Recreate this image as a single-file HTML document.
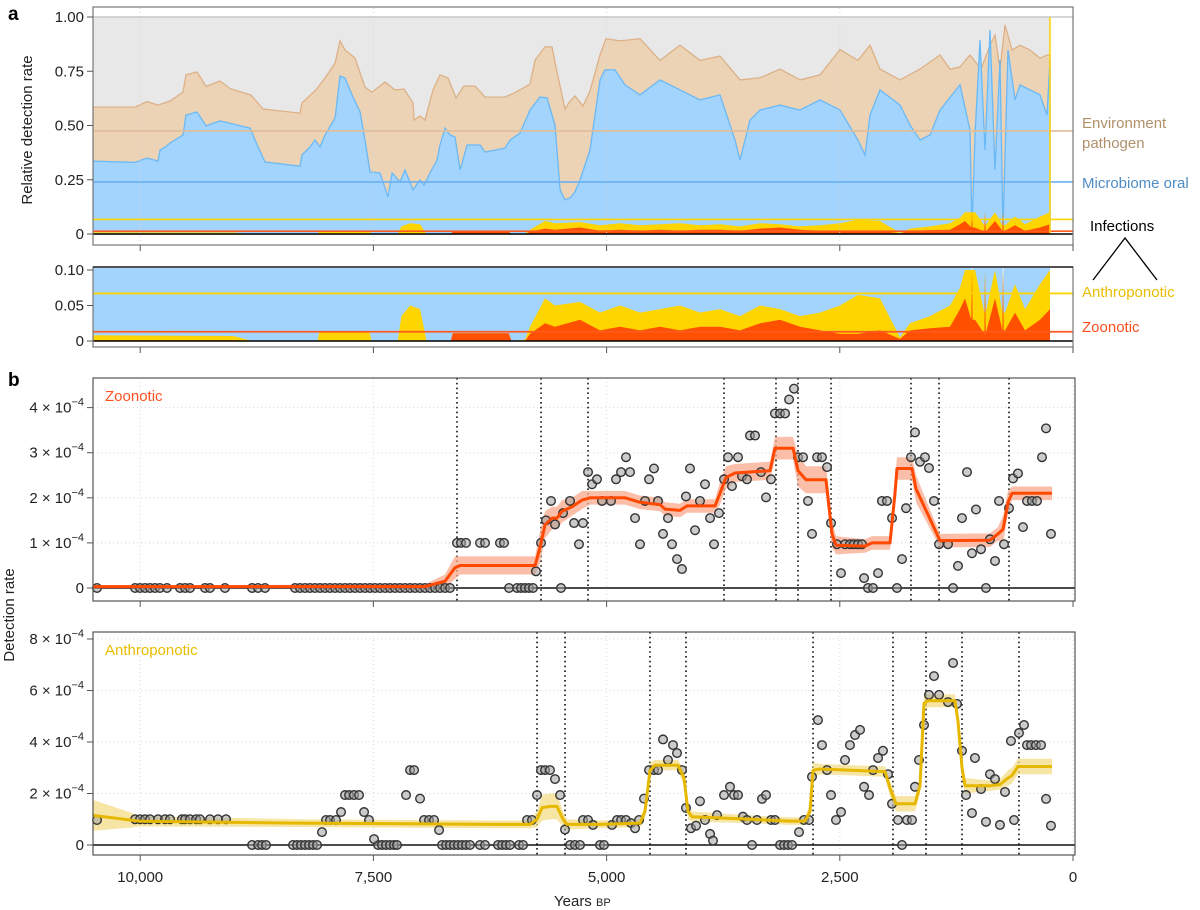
<!DOCTYPE html>
<html><head><meta charset="utf-8">
<style>
html,body{margin:0;padding:0;background:#fff;}
svg{display:block;font-family:"Liberation Sans",Arial,sans-serif;}
</style></head>
<body>
<svg id="chart" xmlns="http://www.w3.org/2000/svg" width="1200" height="910" viewBox="0 0 1200 910">
<defs>
<clipPath id="clipA"><rect x="93" y="7" width="980" height="238"/></clipPath>
<clipPath id="clipB"><rect x="93" y="268" width="980" height="79"/></clipPath>
</defs>
<g id="panelA"></g>
<g id="panelB1"></g>
<g id="panelB2"></g>
<g id="labels">
<text x="8" y="20" font-size="19" font-weight="bold">a</text>
<text x="8" y="386" font-size="19" font-weight="bold">b</text>
<text transform="translate(32,130) rotate(-90)" text-anchor="middle" font-size="15" fill="#222">Relative detection rate</text>
<text transform="translate(14,615) rotate(-90)" text-anchor="middle" font-size="15" fill="#222">Detection rate</text>
<text x="554" y="906" font-size="15" fill="#222">Years <tspan font-size="11">BP</tspan></text>
<text x="1082" y="128" font-size="15" fill="#b0906b">Environment</text>
<text x="1082" y="148" font-size="15" fill="#b0906b">pathogen</text>
<text x="1082" y="188" font-size="15" fill="#4f8cc4">Microbiome oral</text>
<text x="1090" y="231" font-size="15" fill="#000">Infections</text>
<polyline points="1093,280 1125,238 1157,280" fill="none" stroke="#000" stroke-width="1.3"/>
<text x="1082" y="297" font-size="15" fill="#e8bd00">Anthroponotic</text>
<text x="1082" y="332" font-size="15" fill="#ff4f1f">Zoonotic</text>
</g>
</svg>
<script>
// ---------- Panel a data ----------
const envYears=[10506,10055,9927,9809,9680,9541,9509,9391,9294,9144,9037,8812,8683,8287,8265,8115,8019,7911,7858,7804,7697,7590,7515,7375,7268,7172,7075,7064,7000,6947,6861,6786,6700,6614,6529,6411,6303,6089,5971,5821,5767,5660,5585,5532,5446,5392,5339,5253,5178,5071,5006,4856,4642,4427,4213,3999,3784,3570,3355,3141,2927,2712,2498,2305,2176,2069,1855,1640,1426,1319,1211,1104,986,890,836,783,729,654,568,461,354,279,247];
const envTop=[.585,.585,.61,.594,.613,.654,.733,.747,.68,.705,.67,.64,.576,.557,.604,.664,.719,.788,.89,.848,.811,.677,.654,.7,.664,.668,.604,.525,.544,.525,.664,.733,.719,.627,.682,.682,.631,.631,.654,.691,.802,.862,.862,.747,.576,.613,.636,.59,.659,.825,.9,.89,.9,.8,.87,.8,.82,.71,.72,.76,.71,.733,.85,.8,.87,.76,.71,.76,.825,.76,.77,.825,.76,.87,.917,.76,.963,.848,.87,.848,.81,.825,.825];
const oralYears=[10506,10055,9927,9809,9788,9734,9680,9541,9509,9391,9294,9144,8823,8769,8662,8287,8265,8180,8126,8072,8019,7911,7858,7804,7729,7643,7590,7536,7429,7343,7300,7215,7161,7075,7000,6957,6893,6818,6786,6732,6679,6625,6571,6496,6357,6303,6089,6035,5928,5821,5714,5639,5553,5499,5446,5392,5339,5285,5178,5071,5017,4910,4803,4642,4427,4213,3999,3784,3623,3570,3463,3355,3141,2927,2712,2498,2305,2230,2176,2069,1855,1747,1640,1533,1426,1211,1104,1083,1051,997,943,890,836,783,750,697,622,568,461,354,279,247];
const oralTop=[.336,.33,.35,.336,.387,.4,.419,.456,.548,.562,.498,.521,.488,.433,.332,.313,.364,.401,.433,.401,.456,.535,.728,.719,.641,.562,.433,.286,.281,.171,.281,.24,.295,.203,.249,.226,.281,.341,.41,.488,.456,.447,.295,.41,.41,.378,.396,.433,.465,.571,.631,.627,.502,.203,.157,.166,.194,.249,.387,.71,.756,.756,.687,.641,.71,.664,.618,.641,.433,.341,.525,.571,.594,.571,.618,.571,.433,.364,.548,.664,.594,.502,.433,.456,.571,.687,.479,.018,.456,.894,.387,.94,.295,.802,.018,.848,.618,.687,.664,.641,.548,.802];
const infYears=[10506,9000,8800,8100,8080,7540,7520,7240,7200,7107,7000,6930,6670,6650,6050,6020,5875,5821,5660,5553,5285,5071,4856,4642,4427,4213,3999,3784,3570,3355,3141,2927,2712,2498,2305,2069,1855,1747,1533,1319,1211,1158,1090,1083,1076,1051,950,943,936,836,757,750,743,729,622,515,354,247];
const zooShare=[.001,.001,0,0,0,0,0,0,0,0,0,0,0,.011,.011,0,0,.01,.025,.02,.03,.015,.02,.015,.02,.015,.02,.02,.015,.025,.03,.02,.015,.01,.01,.015,.003,.015,.018,.02,.045,.06,.03,.1,.03,.03,.01,.1,.01,.06,.015,.1,.015,.015,.04,.015,.03,.045];
const anthCum=[.008,.007,0,0,.012,.012,0,0,.035,.05,.045,0,0,.011,.011,0,.002,.02,.06,.05,.055,.04,.05,.04,.045,.05,.04,.045,.035,.05,.045,.035,.04,.05,.065,.06,.005,.025,.035,.05,.075,.1,.1,.1,.1,.1,.04,.1,.04,.1,.04,.1,.04,.04,.08,.045,.08,.1];
const refLevels={env:.475,oral:.24,anth:.067,zoo:.013};
const aTicks=[0,.25,.5,.75,1];const aTickLabels=["0","0.25","0.50","0.75","1.00"];
const bTicks=[0,.05,.10];const bTickLabels=["0","0.05","0.10"];
const xTicks=[10000,7500,5000,2500,0];const xTickLabels=["10,000","7,500","5,000","2,500","0"];
const lastYear=247;
// ---------- Panel b data (units of 1e-4) ----------
const zooFitYears=[10506,6947,6732,6625,6571,5767,5714,5660,5585,5532,5478,5371,5264,5178,4803,4642,4427,4374,4213,4138,3838,3784,3720,3623,3248,3195,3002,2948,2862,2648,2584,2541,2230,2155,1962,1908,1887,1726,1683,1426,890,804,750,697,654,225];
const zooFit=[0.03,0.03,0.15,0.45,0.5,0.5,0.9,1.4,1.55,1.55,1.7,1.8,1.95,2.0,2.0,1.9,1.85,1.75,1.72,1.82,1.82,2.1,2.45,2.55,2.6,3.1,3.1,2.6,2.4,2.4,1.2,0.95,0.93,1.0,1.0,2.1,2.65,2.65,2.2,1.05,1.06,1.2,1.3,1.9,2.1,2.1];
const zooBand=[0.03,0.05,0.15,0.25,0.2,0.2,0.35,0.3,0.25,0.25,0.25,0.2,0.2,0.15,0.15,0.15,0.15,0.15,0.15,0.15,0.15,0.25,0.25,0.2,0.2,0.25,0.25,0.35,0.3,0.3,0.3,0.2,0.15,0.15,0.15,0.3,0.25,0.25,0.3,0.15,0.15,0.15,0.3,0.25,0.15,0.15];
const zooZeroYears=[10463,10055,10002,9948,9895,9841,9788,9713,9573,9519,9466,9305,9252,9091,8801,8737,8662,8340,8287,8233,8180,8126,8072,8019,7965,7911,7858,7804,7751,7697,7643,7590,7536,7483,7429,7375,7322,7268,7215,7161,7107,7054,7000,6947,6893,6839,6786,6732,6679,6046,5960,5917,5875,5832,5789,5489,2198,2144,1887,1286,933];
const zooDotYears=[6604,6561,6507,6357,6303,6143,6100,5757,5703,5650,5596,5553,5467,5392,5349,5296,5253,5199,5156,5103,5049,4953,4899,4845,4792,4749,4695,4642,4588,4545,4492,4449,4395,4342,4299,4245,4192,4149,4106,4052,3999,3945,3891,3848,3795,3741,3698,3656,3591,3548,3495,3463,3409,3345,3291,3237,3195,3141,3087,3044,2991,2948,2894,2841,2798,2744,2691,2637,2594,2530,2487,2444,2391,2348,2305,2262,2240,2090,2048,1994,1940,1833,1790,1737,1694,1640,1587,1544,1490,1436,1340,1233,1190,1136,1083,1040,986,890,836,793,740,686,643,590,536,493,440,386,332,289,236];
const zooDotVals=[1,1,1,1,1,1,1,.37,1,1.5,1.93,1.41,1.66,1.93,1.44,.97,1.44,2.57,2.3,2.41,1.93,1.93,2.41,2.57,2.9,2.57,1.55,.97,1.93,2.41,2.65,1.93,1.2,1.55,.97,.64,.42,2.03,2.65,1.28,1.93,2.3,1.55,.97,1.66,2.41,2.9,2.26,2.9,2.48,2.41,3.38,3.38,2.57,2.01,2.41,3.87,3.87,3.87,4.18,4.42,2.9,2.9,1.93,1.2,2.9,2.9,2.68,1.44,.97,.33,.97,.97,.97,.97,.97,.22,.33,1.93,1.93,1.55,.64,1.77,2.9,3.45,2.8,2.9,2.66,1.93,.97,.97,.49,1.55,2.57,.77,1.74,.86,1.08,.6,1.93,.97,1.77,2.43,2.54,1.35,1.93,1.93,1.93,2.9,3.54,1.2];
const zooBreaks=[6604,5703,5199,3741,3184,2948,2594,1737,1436,686];
const anthFitYears=[10506,10109,10002,8287,6143,5821,5746,5692,5607,5532,5467,5424,5071,4642,4588,4535,4481,4235,4170,4127,4084,3463,3034,2873,2819,2787,2712,2015,1962,1898,1694,1640,1597,1554,1265,1233,1190,1158,890,783,697,654,590,225];
const anthFit=[1.15,0.97,0.92,0.85,0.8,0.8,1.0,1.45,1.5,1.5,1.0,0.8,0.8,0.85,1.3,2.9,3.1,3.1,2.6,1.3,1.1,1.0,0.93,0.93,1.3,2.9,2.95,2.85,2.2,1.6,1.6,2.3,5.5,5.6,5.6,4.8,3.0,2.3,2.3,2.35,2.6,2.7,3.05,3.05];
const anthBand=[0.6,0.3,0.2,0.15,0.15,0.15,0.3,0.5,0.5,0.5,0.3,0.2,0.15,0.15,0.3,0.3,0.2,0.2,0.3,0.3,0.2,0.15,0.15,0.15,0.3,0.3,0.2,0.2,0.3,0.3,0.3,0.3,0.3,0.25,0.25,0.3,0.3,0.3,0.2,0.2,0.3,0.3,0.3,0.3];
const anthZeroYears=[8801,8737,8694,8651,8362,8319,8276,8233,8190,8147,8104,7450,7408,7365,7322,7279,7247,6764,6721,6679,6636,6593,6550,6507,6464,6357,6303,6164,6121,6078,6035,5939,5896,5392,5339,5285,5071,5028,3441,3141,3098,3055,3012,1833];
const anthDotYears=[10463,10055,10002,9948,9895,9809,9734,9680,9552,9519,9466,9401,9359,9252,9166,9080,8051,8008,7965,7901,7847,7804,7761,7708,7654,7600,7547,7493,7150,7107,7064,7000,6957,6904,6850,6796,5853,5800,5746,5703,5660,5607,5553,5499,5446,5253,5199,5146,4942,4888,4845,4792,4738,4695,4652,4599,4545,4492,4449,4395,4342,4288,4245,4192,4149,4095,4041,3999,3945,3891,3859,3816,3741,3677,3634,3591,3538,3495,3388,3334,3291,3237,3195,2937,2884,2830,2798,2734,2691,2637,2594,2541,2487,2444,2391,2337,2283,2240,2187,2144,2090,2037,1983,1940,1876,1780,1726,1694,1651,1597,1544,1490,1436,1340,1286,1244,1190,1147,1083,1051,986,933,890,836,783,729,665,632,579,525,493,450,397,343,289,236];
const anthDotVals=[.97,1,1,1,1,1,1,1,1,1,1,1,1,1,1,1,.5,.97,.97,.97,1.28,1.94,1.94,1.94,1.94,1.28,.97,.23,1.94,2.91,2.91,1.8,.97,.97,.97,.58,.97,.97,1.94,2.91,2.91,2.91,2.56,1.94,.6,.97,.97,.78,.78,.97,.97,.97,.85,.65,.97,1.8,2.91,2.91,2.91,4.1,3.3,3.88,3.57,2.91,1.44,.65,.75,1.7,.97,.43,.17,1.16,1.94,2.26,1.94,1.94,1.1,.97,.97,1.79,1.94,.97,.97,.5,.97,.97,2.65,4.85,3.88,2.91,1.94,.97,1.28,3.3,3.88,4.27,4.47,2.26,1.94,2.91,3.38,3.66,2.75,1.6,.97,.97,.97,2.26,3.3,4.66,5.83,6.56,5.83,5.55,7.07,5.48,3.66,1.94,1.24,3.38,2.17,.9,2.75,2.56,.78,2.06,4.04,.97,4.35,4.66,3.88,3.88,3.88,3.88,1.79,.75];
const anthBreaks=[5746,5446,4535,4149,2787,1930,1576,1190,579];
const zooTicks=[0,1,2,3,4];const zooTickLabels=["0","1","2","3","4"];
const anthTicks=[0,2,4,6,8];const anthTickLabels=["0","2","4","6","8"];

// ---------- scales ----------
const L=93,R=1073,RB=1075;
function X(yr){return 1073-yr*0.09328;}
function Ya(v){return 234-217*v;}
function Yb(v){return 341-710*v;}
function Yz(v){return 588-45.1*v;}
function Yn(v){return 845-25.75*v;}
const NS="http://www.w3.org/2000/svg";
function mk(tag,attrs,parent){const e=document.createElementNS(NS,tag);for(const k in attrs)e.setAttribute(k,attrs[k]);parent.appendChild(e);return e;}
function areaPath(years,vals,y){let d="";for(let i=0;i<years.length;i++){d+=(i?"L":"M")+X(years[i]).toFixed(1)+","+y(vals[i]).toFixed(1);}d+="L"+X(years[years.length-1]).toFixed(1)+","+y(0)+"L"+X(years[0]).toFixed(1)+","+y(0)+"Z";return d;}
function linePath(years,vals,y){let d="";for(let i=0;i<years.length;i++){d+=(i?"L":"M")+X(years[i]).toFixed(1)+","+y(vals[i]).toFixed(1);}return d;}
function bandPath(years,vals,band,y){let up="",dn="";for(let i=0;i<years.length;i++){up+=(i?"L":"M")+X(years[i]).toFixed(1)+","+y(vals[i]+band[i]).toFixed(1);}for(let i=years.length-1;i>=0;i--){dn+="L"+X(years[i]).toFixed(1)+","+y(Math.max(0,vals[i]-band[i])).toFixed(1);}return up+dn+"Z";}

// ---------- panel a ----------
const pa=document.getElementById("panelA");
const ga=mk("g",{"clip-path":"url(#clipA)"},pa);


let r=mk("rect",{x:L,y:Ya(1),width:X(lastYear)-L,height:Ya(0)-Ya(1),fill:"#e8e8e8"},ga);


let p=mk("path",{d:areaPath(envYears,envTop,Ya),fill:"#ecd3b5",stroke:"#dcb187","stroke-width":1.3},ga);


p=mk("path",{d:areaPath(oralYears,oralTop,Ya),fill:"#a3d4fd",stroke:"#6ab9f7","stroke-width":1.3},ga);


p=mk("path",{d:areaPath(infYears,anthCum,Ya),fill:"#ffd500"},ga);


p=mk("path",{d:areaPath(infYears,zooShare,Ya),fill:"#ff5000"},ga);


xTicks.forEach(t=>{const l=mk("line",{x1:X(t),x2:X(t),y1:8,y2:244,stroke:"#d6d6d6","stroke-dasharray":"1 3"},pa);

});
let l=mk("line",{x1:L,x2:R,y1:Ya(1),y2:Ya(1),stroke:"#c8c8c8","stroke-width":1.5},pa);


const refCols={env:"#e2bd98",oral:"#6ab0f0",anth:"#ffd500",zoo:"#ff5a1f"};
for(const k in refLevels){l=mk("line",{x1:L,x2:R,y1:Ya(refLevels[k]),y2:Ya(refLevels[k]),stroke:refCols[k],"stroke-width":1.6},pa);

}
l=mk("line",{x1:X(lastYear),x2:X(lastYear),y1:Ya(1),y2:Ya(0),stroke:"#ffd500","stroke-width":1.5},pa);


l=mk("line",{x1:L,x2:R,y1:Ya(0),y2:Ya(0),stroke:"#000","stroke-width":1.5},pa);


r=mk("rect",{x:L,y:7,width:R-L,height:238,fill:"none",stroke:"#777","stroke-width":1.2},pa);


aTicks.forEach((t,i)=>{const tk=mk("line",{x1:L-6,x2:L,y1:Ya(t),y2:Ya(t),stroke:"#555"},pa);


const tx=mk("text",{x:L-9,y:Ya(t)+5,"text-anchor":"end","font-size":15,fill:"#222"},pa);tx.textContent=aTickLabels[i];

});
const gb=mk("g",{"clip-path":"url(#clipB)"},pa);


p=mk("path",{d:areaPath(oralYears,oralTop,Yb),fill:"#a3d4fd"},gb);


p=mk("path",{d:areaPath(infYears,anthCum,Yb),fill:"#ffd500"},gb);


p=mk("path",{d:areaPath(infYears,zooShare,Yb),fill:"#ff5000"},gb);


["anth","zoo"].forEach(k=>{l=mk("line",{x1:L,x2:R,y1:Yb(refLevels[k]),y2:Yb(refLevels[k]),stroke:refCols[k],"stroke-width":1.8},pa);

});
l=mk("line",{x1:L,x2:R,y1:Yb(0),y2:Yb(0),stroke:"#000","stroke-width":1.5},pa);


r=mk("rect",{x:L,y:267,width:R-L,height:80,fill:"none",stroke:"#777","stroke-width":1.2},pa);


l=mk("line",{x1:L,x2:R,y1:267,y2:267,stroke:"#222","stroke-width":1.5},pa);


bTicks.forEach((t,i)=>{const tk=mk("line",{x1:L-6,x2:L,y1:Yb(t),y2:Yb(t),stroke:"#555"},pa);


const tx=mk("text",{x:L-9,y:Yb(t)+5,"text-anchor":"end","font-size":15,fill:"#222"},pa);tx.textContent=bTickLabels[i];

});
xTicks.forEach(t=>{[[245,251],[347,353]].forEach(s=>{const tk=mk("line",{x1:X(t),x2:X(t),y1:s[0],y2:s[1],stroke:"#555"},pa);

});});

// ---------- panel b ----------
function panelB(g,top,bot,y,ticks,tickLabels,fitY,fit,band,zeros,dy,dv,breaks,col,bandCol,name,title,titleCol){
  const frameTop=top,frameBot=bot;
  xTicks.forEach(t=>{const gl=mk("line",{x1:X(t),x2:X(t),y1:frameTop,y2:frameBot,stroke:"#d8d8d8","stroke-dasharray":"1 3"},g);
  
  });
  ticks.forEach((t,i)=>{if(t>0){const gl=mk("line",{x1:L,x2:RB,y1:y(t),y2:y(t),stroke:"#d8d8d8","stroke-dasharray":"1 3"},g);
  
  }
  const tk=mk("line",{x1:L-6,x2:L,y1:y(t),y2:y(t),stroke:"#555"},g);
  
  
  const tx=mk("text",{x:L-9,y:y(t)+5,"text-anchor":"end","font-size":15,fill:"#222"},g);
  
  
  if(t===0){tx.textContent="0";}else{tx.textContent=tickLabels[i]+" \u00d7 10";const s=mk("tspan",{"font-size":11,dy:-7},tx);s.textContent="\u22124";}});
  breaks.forEach(b=>{const bl=mk("line",{x1:X(b),x2:X(b),y1:frameTop,y2:frameBot,stroke:"#111","stroke-width":1.6,"stroke-dasharray":"1.6 3.2"},g);
  
  });
  const zl=mk("line",{x1:L,x2:RB,y1:y(0),y2:y(0),stroke:"#111","stroke-width":1.5},g);
  
  
  const bp=mk("path",{d:bandPath(fitY,fit,band,y),fill:bandCol,opacity:0.75},g);
  
  
  zeros.forEach(z=>{const c=mk("circle",{cx:X(z),cy:y(0),r:4.3,fill:"#a0a0a0","fill-opacity":0.55,stroke:"#333","stroke-width":1.4},g);
  
  });
  dy.forEach((yr,i)=>{const c=mk("circle",{cx:X(yr),cy:y(dv[i]),r:4.3,fill:"#a0a0a0","fill-opacity":0.55,stroke:"#333","stroke-width":1.4},g);
  
  });
  const lp=mk("path",{d:linePath(fitY,fit,y),fill:"none",stroke:col,"stroke-width":3,"stroke-linejoin":"round"},g);
  
  
  const fr=mk("rect",{x:L,y:frameTop,width:RB-L,height:frameBot-frameTop,fill:"none",stroke:"#555","stroke-width":1.2},g);
  
  
  xTicks.forEach(t=>{const tk=mk("line",{x1:X(t),x2:X(t),y1:frameBot,y2:frameBot+6,stroke:"#555"},g);
  
  });
  const tt=mk("text",{x:105,y:frameTop+23,"font-size":15,fill:titleCol},g);tt.textContent=title;
  
  
}
panelB(document.getElementById("panelB1"),378,601,Yz,zooTicks,zooTickLabels,zooFitYears,zooFit,zooBand,zooZeroYears,zooDotYears,zooDotVals,zooBreaks,"#ff4800","#f8a88c","zoonotic","Zoonotic","#ff4f1f");
panelB(document.getElementById("panelB2"),632,855,Yn,anthTicks,anthTickLabels,anthFitYears,anthFit,anthBand,anthZeroYears,anthDotYears,anthDotVals,anthBreaks,"#e6b800","#f3dc86","anthroponotic","Anthroponotic","#e8bd00");
const pb2=document.getElementById("panelB2");
xTicks.forEach((t,i)=>{const tx=mk("text",{x:X(t),y:882,"text-anchor":"middle","font-size":15,fill:"#222"},pb2);tx.textContent=xTickLabels[i];

});
</script>
</body></html>
